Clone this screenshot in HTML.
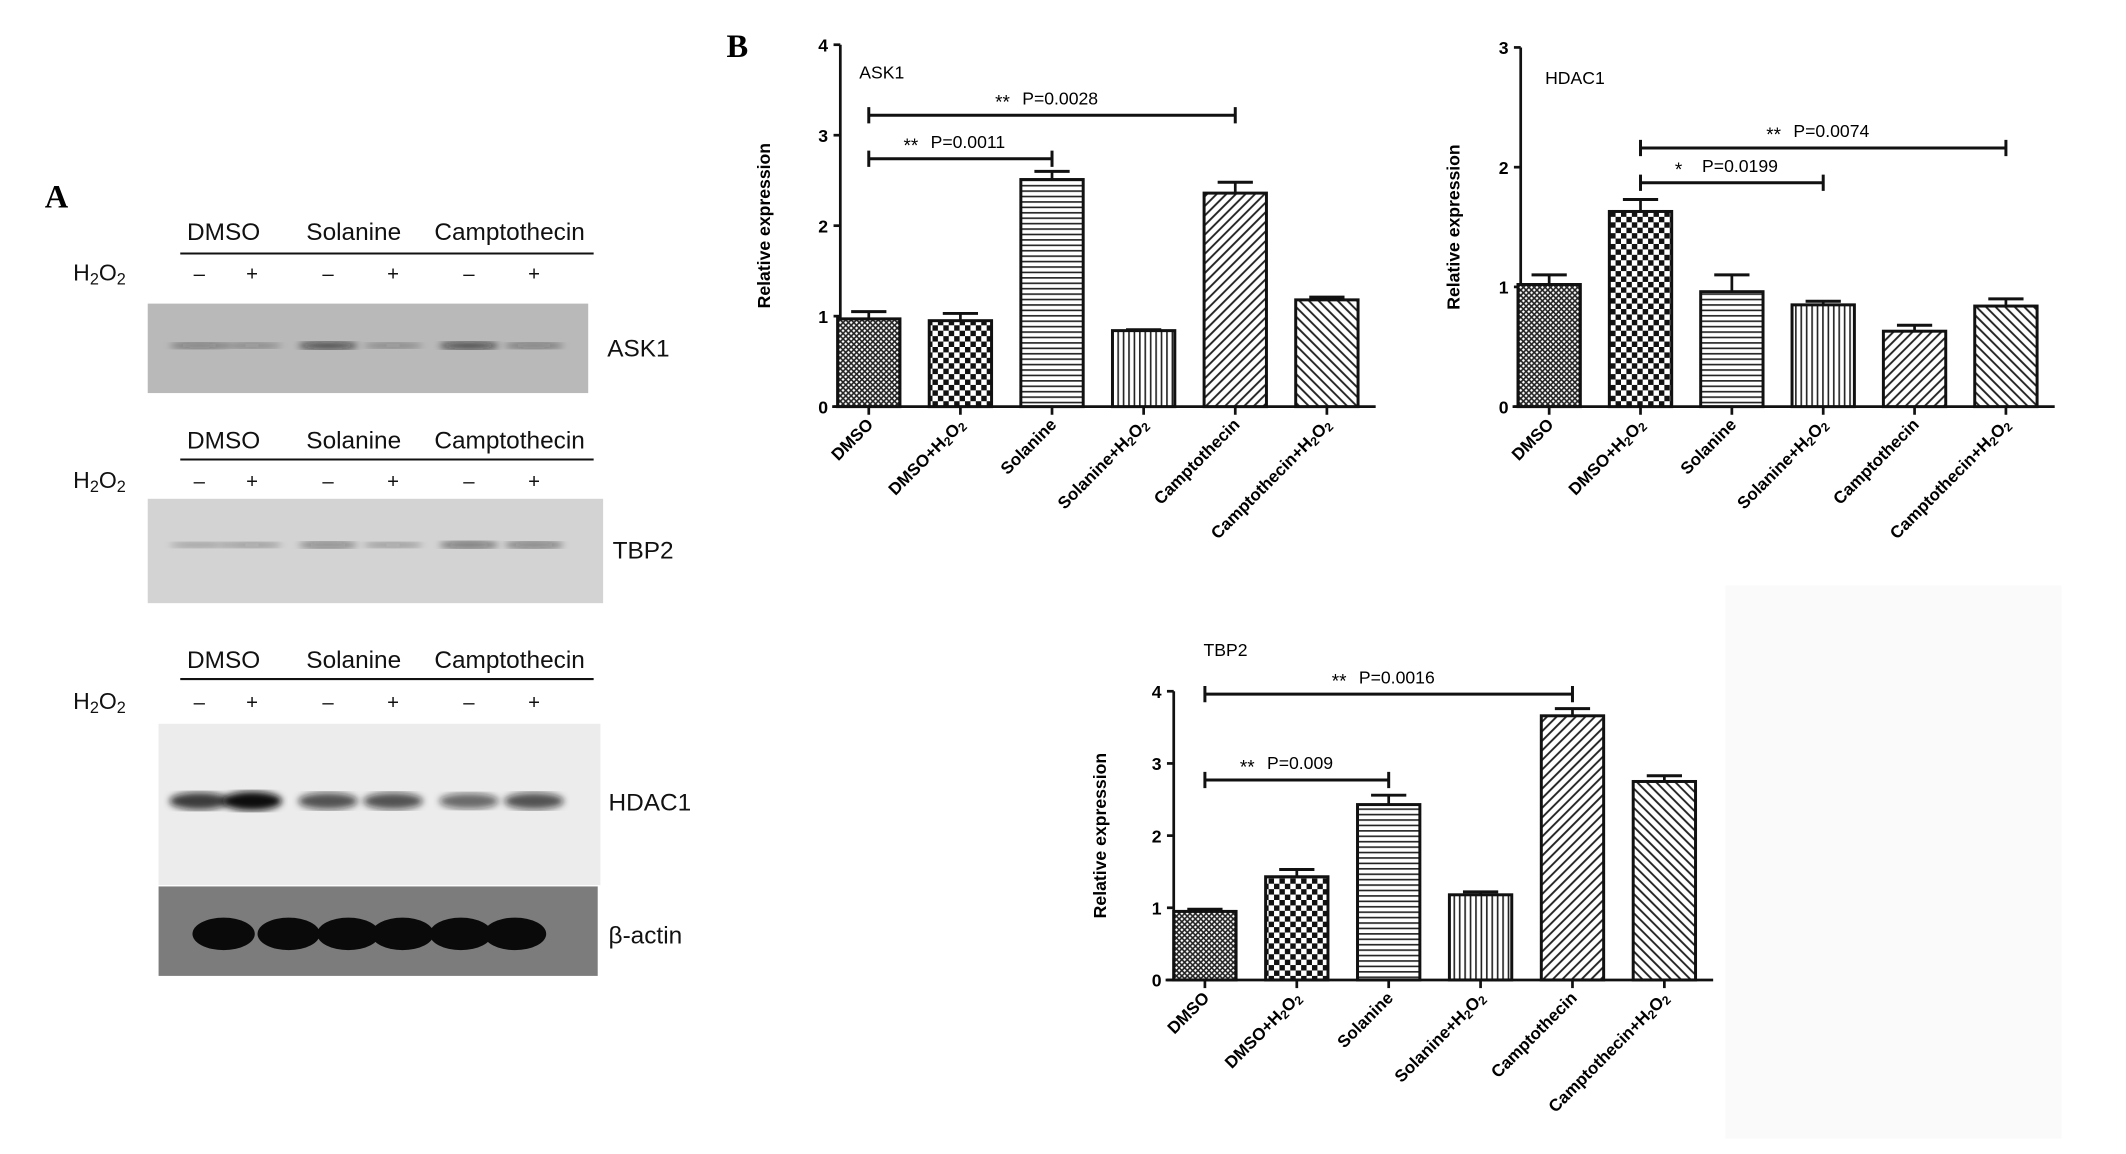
<!DOCTYPE html>
<html><head><meta charset="utf-8"><style>
html,body{margin:0;padding:0;background:#fff;}
svg{display:block;font-family:"Liberation Sans",Arial,sans-serif;}
</style></head><body>
<svg id="fig" width="2126" height="1154" viewBox="0 0 1568.6 851.4" preserveAspectRatio="none" xmlns="http://www.w3.org/2000/svg">
<defs>
<pattern id="p0" width="4" height="4" patternUnits="userSpaceOnUse"><rect width="4" height="4" fill="#fff"/><path d="M0 0L4 4M4 0L0 4" stroke="#222" stroke-width="1.2"/></pattern>
<pattern id="p1" width="8" height="8" patternUnits="userSpaceOnUse"><rect width="8" height="8" fill="#fff"/><rect width="4" height="4" fill="#111"/><rect x="4" y="4" width="4" height="4" fill="#111"/></pattern>
<pattern id="p2" width="4" height="4" patternUnits="userSpaceOnUse"><rect width="4" height="4" fill="#fff"/><line x1="0" y1="1" x2="4" y2="1" stroke="#222" stroke-width="1.2"/></pattern>
<pattern id="p3" width="4" height="4" patternUnits="userSpaceOnUse"><rect width="4" height="4" fill="#fff"/><line x1="1" y1="0" x2="1" y2="4" stroke="#222" stroke-width="1.2"/></pattern>
<pattern id="p4" width="5" height="5" patternUnits="userSpaceOnUse" patternTransform="rotate(45)"><rect width="5" height="5" fill="#fff"/><line x1="1" y1="0" x2="1" y2="5" stroke="#222" stroke-width="1.4"/></pattern>
<pattern id="p5" width="5" height="5" patternUnits="userSpaceOnUse" patternTransform="rotate(-45)"><rect width="5" height="5" fill="#fff"/><line x1="1" y1="0" x2="1" y2="5" stroke="#222" stroke-width="1.4"/></pattern>
<filter id="blur"><feGaussianBlur stdDeviation="2.5"/></filter>
</defs>
<rect x="1273" y="432" width="248" height="408" fill="#fafafa"/>
<g id="panelA"></g>
<g id="charts"></g>
</svg>
<script>
const NS="http://www.w3.org/2000/svg";
function mk(parent,tag,attrs,text){const e=document.createElementNS(NS,tag);for(const k in attrs)e.setAttribute(k,attrs[k]);if(text!==undefined)e.textContent=text;parent.appendChild(e);return e;}
const A=document.getElementById('panelA');
const t0=mk(A,'text',{x:33,y:153,'font-family':'Liberation Serif,serif','font-weight':'bold','font-size':24},'A');


const B0=mk(A,'text',{x:536,y:42,'font-family':'Liberation Serif,serif','font-weight':'bold','font-size':24},'B');



const groups=['DMSO','Solanine','Camptothecin'];
const groupX=[165,261,376];
const laneX=[147,186,242,290,346,394];
const signs=['–','+','–','+','–','+'];
const blocks=[
 {hy:177,ly:187,sy:207,bx:109,by:224,bw:325,bh:66,fill:'#b9b9b9',band:255,bandI:[0.45,0.35,0.75,0.35,0.75,0.45],label:'ASK1',lx:448,lyy:263,name:'ask1'},
 {hy:331,ly:339,sy:360,bx:109,by:368,bw:336,bh:77,fill:'#d3d3d3',band:402,bandI:[0.3,0.35,0.5,0.35,0.6,0.55],label:'TBP2',lx:452,lyy:412,name:'tbp2'},
 {hy:493,ly:501,sy:523,bx:117,by:534,bw:326,bh:119,fill:'#ececec',band:591,bandI:[0.8,1,0.7,0.7,0.6,0.7],label:'HDAC1',lx:449,lyy:598,name:'hdac1'}
];
blocks.forEach(b=>{
 groups.forEach((g,i)=>{const t=mk(A,'text',{x:groupX[i],y:b.hy,'text-anchor':'middle','font-size':18,fill:'#111'},g);
  
  });
 const l=mk(A,'line',{x1:133,x2:438,y1:b.ly,y2:b.ly,stroke:'#111','stroke-width':1.5});
 
 
 const h=mk(A,'text',{x:54,y:b.sy,'font-size':17,fill:'#111'});
 
 
 mk(h,'tspan',{},'H');mk(h,'tspan',{'font-size':12,dy:3},'2');mk(h,'tspan',{dy:-3},'O');mk(h,'tspan',{'font-size':12,dy:3},'2');
 laneX.forEach((x,i)=>{const s=mk(A,'text',{x:x,y:b.sy,'text-anchor':'middle','font-size':15,fill:'#111'},signs[i]);
  
  });
 const r=mk(A,'rect',{x:b.bx,y:b.by,width:b.bw,height:b.bh,fill:b.fill});
 
 
 laneX.forEach((x,i)=>{const e=mk(A,'ellipse',{cx:x,cy:b.band,rx:22,ry:b.name==='hdac1'?4+3*b.bandI[i]:1.5+1.5*b.bandI[i],fill:'#111','fill-opacity':b.bandI[i],filter:'url(#blur)'});
  
  });
 const lb=mk(A,'text',{x:b.lx,y:b.lyy,'font-size':18,fill:'#111'},b.label);
 
 
});
const ba=mk(A,'rect',{x:117,y:654,width:324,height:66,fill:'#7c7c7c'});


[165,213,257,297,340,380].forEach(x=>{const e=mk(A,'ellipse',{cx:x,cy:689,rx:23,ry:12,fill:'#0a0a0a'});
 
 });
const bl=mk(A,'text',{x:449,y:696,'font-size':18,fill:'#111'},'β-actin');



// ===== chart data =====
const categories=['DMSO','DMSO+H2O2','Solanine','Solanine+H2O2','Camptothecin','Camptothecin+H2O2'];
const ask1Values=[0.97,0.95,2.51,0.84,2.36,1.18];
const ask1Errors=[0.08,0.08,0.09,0.01,0.12,0.03];
const hdac1Values=[1.02,1.63,0.96,0.85,0.63,0.84];
const hdac1Errors=[0.08,0.10,0.14,0.03,0.05,0.06];
const tbp2Values=[0.95,1.43,2.43,1.18,3.66,2.75];
const tbp2Errors=[0.03,0.10,0.13,0.04,0.10,0.08];
const ask1Ticks=[0,1,2,3,4];
const hdac1Ticks=[0,1,2,3];
const tbp2Ticks=[0,1,2,3,4];
const ask1Sig=[{from:0,to:4,level:3.22,stars:'**',p:'P=0.0028'},{from:0,to:2,level:2.74,stars:'**',p:'P=0.0011'}];
const hdac1Sig=[{from:1,to:5,level:2.16,stars:'**',p:'P=0.0074'},{from:1,to:3,level:1.87,stars:'*',p:'P=0.0199'}];
const tbp2Sig=[{from:0,to:4,level:3.96,stars:'**',p:'P=0.0016'},{from:0,to:2,level:2.77,stars:'**',p:'P=0.009'}];

const C=document.getElementById('charts');
function chart(cfg){
 const g=mk(C,'g',{});
 
 
 const yMax=cfg.ticks[cfg.ticks.length-1];
 const Y=v=>cfg.y0-(cfg.y0-cfg.yTop)*v/yMax;
 const X=i=>cfg.x1+cfg.step*i;
 const ax=mk(g,'line',{x1:cfg.ax,x2:cfg.ax,y1:cfg.yTop,y2:cfg.y0,stroke:'#111','stroke-width':2});
 
 
 const xa=mk(g,'line',{x1:cfg.ax-6,x2:X(5)+36,y1:cfg.y0,y2:cfg.y0,stroke:'#111','stroke-width':2});
 
 
 cfg.ticks.forEach(t=>{
  mk(g,'line',{x1:cfg.ax-5,x2:cfg.ax,y1:Y(t),y2:Y(t),stroke:'#111','stroke-width':2});
  const tl=mk(g,'text',{x:cfg.ax-9,y:Y(t)+5,'text-anchor':'end','font-size':13,'font-weight':'bold'},String(t));
  
  
 });
 const yt=mk(g,'text',{transform:`translate(${cfg.ytx},${(cfg.y0+cfg.yTop)/2}) rotate(-90)`,'text-anchor':'middle','font-size':13,'font-weight':'bold'},'Relative expression');
 
 
 const ti=mk(g,'text',{x:cfg.tx,y:cfg.ty,'font-size':13},cfg.title);
 
 
 const bw=46;
 cfg.values.forEach((v,i)=>{
  const cx=X(i);
  const r=mk(g,'rect',{x:cx-bw/2,y:Y(v),width:bw,height:cfg.y0-Y(v),fill:'url(#p'+i+')',stroke:'#111','stroke-width':2.2});
  
  
  const e=cfg.errors[i];
  mk(g,'line',{x1:cx,x2:cx,y1:Y(v),y2:Y(v+e),stroke:'#111','stroke-width':2});
  const eb=mk(g,'line',{x1:cx-13,x2:cx+13,y1:Y(v+e),y2:Y(v+e),stroke:'#111','stroke-width':2.2});
  
  
  mk(g,'line',{x1:cx,x2:cx,y1:cfg.y0,y2:cfg.y0+6,stroke:'#111','stroke-width':2});
  const lab=categories[i];
  const t=mk(g,'text',{transform:`translate(${cx+4},${cfg.y0+14}) rotate(-45)`,'text-anchor':'end','font-size':12.5,'font-weight':'bold'});
  
  
  if(lab.indexOf('H2O2')>=0){mk(t,'tspan',{},lab.replace('H2O2','H'));mk(t,'tspan',{'font-size':9,dy:2},'2');mk(t,'tspan',{dy:-2},'O');mk(t,'tspan',{'font-size':9,dy:2},'2');}
  else t.textContent=lab;
 });
 cfg.sig.forEach(s=>{
  const y=Y(s.level),xa1=X(s.from),xb=X(s.to);
  const ln=mk(g,'path',{d:`M${xa1} ${y-6}V${y+6}M${xa1} ${y}H${xb}M${xb} ${y-6}V${y+6}`,stroke:'#111','stroke-width':2.2,fill:'none'});
  
  
  const mid=(xa1+xb)/2;
  const st=mk(g,'text',{x:mid-42,y:y-5,'font-size':14},s.stars);
  
  
  const pt=mk(g,'text',{x:mid-22,y:y-8,'font-size':13},s.p);
  
  
 });
}
chart({name:'ask1',ax:620,y0:300,yTop:33,x1:641,step:67.6,ticks:ask1Ticks,values:ask1Values,errors:ask1Errors,sig:ask1Sig,title:'ASK1',tx:634,ty:58,ytx:568});
chart({name:'hdac1',ax:1122,y0:300,yTop:35,x1:1143,step:67.4,ticks:hdac1Ticks,values:hdac1Values,errors:hdac1Errors,sig:hdac1Sig,title:'HDAC1',tx:1140,ty:62,ytx:1077});
chart({name:'tbp2',ax:866,y0:723,yTop:510,x1:889,step:67.8,ticks:tbp2Ticks,values:tbp2Values,errors:tbp2Errors,sig:tbp2Sig,title:'TBP2',tx:888,ty:484,ytx:816});
</script>
</body></html>
